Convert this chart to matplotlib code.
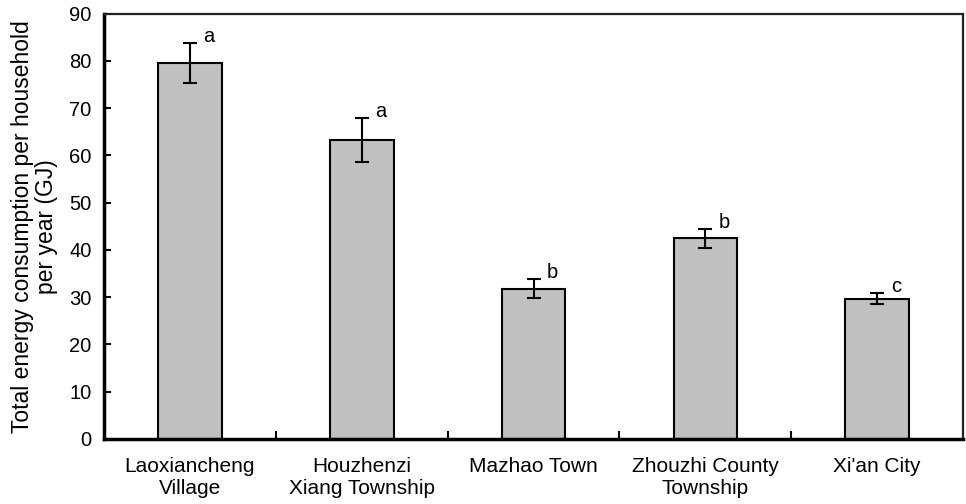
import numpy as np
import matplotlib.pyplot as plt

plt.rcParams['font.family'] = ['Liberation Sans', 'DejaVu Sans']

sites = ['Laoxiancheng\nVillage', 'Houzhenzi\nXiang Township', 'Mazhao Town',
         'Zhouzhi County\nTownship', "Xi'an City"]
energy = [79.6, 63.2, 31.8, 42.5, 29.7]
err = [4.2, 4.7, 2.0, 2.0, 1.1]
groups = ['a', 'a', 'b', 'b', 'c']

fig = plt.figure(figsize=(9.66, 5.04), dpi=100)
ax = fig.add_axes([0.1077, 0.129, 0.8893, 0.844])

x = np.arange(len(sites))
ax.bar(x, energy, width=0.37, color='#c0c0c0', edgecolor='black', linewidth=1.5,
       yerr=err, error_kw=dict(ecolor='black', elinewidth=1.5, capsize=5, capthick=1.5),
       zorder=2)

# significance letters next to the error bar tops
for xi, v, e, g in zip(x, energy, err, groups):
    ax.text(xi + 0.11, v + e + 0.2, g, fontsize=14.5, ha='center', va='baseline')

ax.set_xlim(-0.5, len(sites) - 0.5)
ax.set_ylim(0, 90)
ax.set_yticks(np.arange(0, 91, 10))
ax.set_xticks(x)
ax.set_xticklabels(sites, fontsize=15, linespacing=1.2)
ax.tick_params(axis='x', length=0, pad=13)
ax.tick_params(axis='y', direction='in', length=5, width=1.5, labelsize=14.5, pad=9)

# ticks between categories
ax.set_xticks(x[:-1] + 0.5, minor=True)
ax.tick_params(axis='x', which='minor', direction='in', length=6, width=1.5)

ax.set_ylabel('Total energy consumption per household\nper year (GJ)', fontsize=16.5,
              linespacing=1.05, labelpad=8)

for side in ['left', 'bottom']:
    ax.spines[side].set_linewidth(2.5)
for side in ['top', 'right']:
    ax.spines[side].set_linewidth(1.6)
    ax.spines[side].set_color('#222222')

fig.savefig('out.png', dpi=100)
